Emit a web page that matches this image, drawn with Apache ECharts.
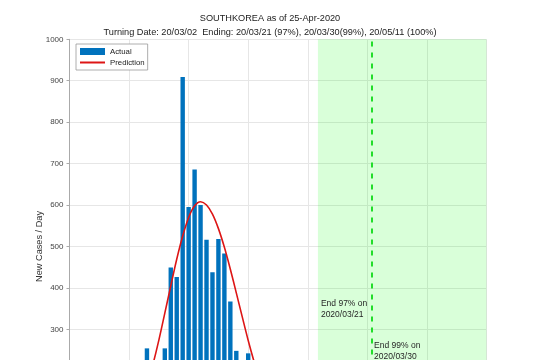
<!DOCTYPE html>
<html>
<head>
<meta charset="utf-8">
<script src="https://cdn.jsdelivr.net/npm/echarts@6/dist/echarts.min.js"></script>
<style>
html,body{margin:0;padding:0;background:#fff;overflow:hidden;width:537px;height:360px;}
#chart{width:537px;height:560px;}
</style>
</head>
<body>
<div id="chart"></div>
<script>
// Day 0 = 2020-02-09, one value per day up to 2020-04-19 (day 70)
const startDate = '2020-02-09';
const actualValues = [2,0,1,0,0,0,0,1,1,1,15,34,74,254,169,161,254,449,426,909,595,686,600,516,438,518,483,367,248,131,242,114,110,107,76,74,84,93,152,87,147,98,64,76,100,104,91,146,105,78,125,101,89,86,94,81,47,47,53,39,27,30,32,25,27,27,22,22,18,8,13];
const predictionValues = [0,0,1,2,3,6,10,16,25,39,59,85,120,163,215,274,339,405,469,525,570,598,608,600,578,543,498,445,388,330,273,221,174,134,101,74,53,37,25,17,12,8,6,4,3,2,2,1,1,1,1,1,1,1,1,1,1,1,1,1,1,1,1,1,1,1,1,1,1,1,1];
const yTicks = [0,100,200,300,400,500,600,700,800,900,1000];
const end97 = 41.7;   // 2020/03/21 (97%)
const end99 = 50.8;   // 2020/03/30 (99%)
const end100 = 92;    // 2020/05/11 (100%)
const xMax = 70;
const titleLine1 = 'SOUTHKOREA as of 25-Apr-2020';
const titleLine2 = 'Turning Date: 20/03/02  Ending: 20/03/21 (97%), 20/03/30(99%), 20/05/11 (100%)';

const actualData = actualValues.map((v, i) => [i, v]);
const predData = predictionValues.map((v, i) => [i, v]);

const chart = echarts.init(document.getElementById('chart'), null, {renderer: 'canvas'});
const fontFam = 'Liberation Sans, Arial, sans-serif';
const option = {
  animation: false,
  textStyle: {fontFamily: fontFam},
  title: [
    {text: titleLine1, left: 270, top: 13, textAlign: 'center', padding: 0,
     textStyle: {fontSize: 9.2, fontWeight: 'normal', color: '#222', fontFamily: fontFam, lineHeight: 11}},
    {text: titleLine2, left: 270, top: 27, textAlign: 'center', padding: 0,
     textStyle: {fontSize: 9.2, fontWeight: 'normal', color: '#222', fontFamily: fontFam, lineHeight: 11}}
  ],
  legend: {
    orient: 'vertical', left: 76, top: 44,
    padding: [3, 3, 3, 3], itemGap: 2,
    itemWidth: 25, itemHeight: 7,
    backgroundColor: '#fff', borderColor: '#999', borderWidth: 0.8,
    textStyle: {fontSize: 7.8, color: '#222', fontFamily: fontFam, lineHeight: 9},
    data: [
      {name: 'Actual', icon: 'rect'},
      {name: 'Prediction', itemStyle: {color: 'rgba(0,0,0,0)', borderWidth: 0, opacity: 0}}
    ]
  },
  grid: {left: 69.5, right: 50.5, top: 39.3, bottom: 106.4, outerBoundsMode: 'none', containLabel: false},
  xAxis: {
    type: 'value', min: 0, max: xMax, interval: 10,
    axisLine: {show: true, lineStyle: {color: '#aaa'}},
    axisTick: {show: true, length: 3, lineStyle: {color: '#aaa'}},
    axisLabel: {fontSize: 8, color: '#444', formatter: function (v) {
      const d = new Date(startDate + 'T00:00:00Z'); d.setUTCDate(d.getUTCDate() + v);
      return String(d.getUTCMonth() + 1).padStart(2, '0') + '/' + String(d.getUTCDate()).padStart(2, '0');
    }},
    splitLine: {show: true, lineStyle: {color: '#e6e6e6', width: 1}}
  },
  yAxis: {
    type: 'value', min: yTicks[0], max: yTicks[yTicks.length - 1], interval: yTicks[1] - yTicks[0],
    name: 'New Cases / Day', nameLocation: 'middle', nameGap: 26, nameRotate: 90,
    nameMoveOverlap: false,
    nameTextStyle: {fontSize: 9.2, color: '#333', fontFamily: fontFam},
    axisLine: {show: true, lineStyle: {color: '#aaa', width: 1}},
    axisTick: {show: true, inside: false, length: 3, lineStyle: {color: '#aaa'}},
    axisLabel: {fontSize: 8, color: '#444', margin: 6, fontFamily: fontFam,
      formatter: function (v) { return String(v); }},
    splitLine: {show: true, lineStyle: {color: '#e6e6e6', width: 1}}
  },
  series: [
    {
      name: 'Actual', type: 'bar', data: actualData, barWidth: 4.4,
      itemStyle: {color: '#0072BD'},
      z: 2,
      markArea: {
        silent: true,
        itemStyle: {color: 'rgba(0,255,0,0.15)'},
        data: [[{xAxis: end97}, {xAxis: Math.min(end100, xMax)}]]
      }
    },
    {
      name: 'Prediction', type: 'line', data: predData, smooth: 0.3,
      symbol: 'none', showSymbol: false,
      lineStyle: {color: '#dd1515', width: 1.6},
      itemStyle: {color: '#dd1515'},
      z: 3,
      markLine: {
        silent: true, symbol: ['none', 'none'],
        label: {show: false},
        lineStyle: {color: '#22dd2a', type: [5, 6], width: 2},
        data: [{xAxis: end99}]
      },
      markPoint: {
        silent: true,
        symbol: 'circle', symbolSize: 0,
        label: {show: true, position: [0, 0], align: 'left', verticalAlign: 'top',
          fontSize: 8.5, lineHeight: 11, color: '#262626', fontFamily: fontFam},
        data: [
          {coord: [end97, 376], label: {formatter: 'End 97% on\n2020/03/21', offset: [3, 0]}},
          {coord: [end99, 275], label: {formatter: 'End 99% on\n2020/03/30', offset: [2, 0]}}
        ]
      }
    }
  ]
};
chart.setOption(option);
</script>
</body>
</html>
